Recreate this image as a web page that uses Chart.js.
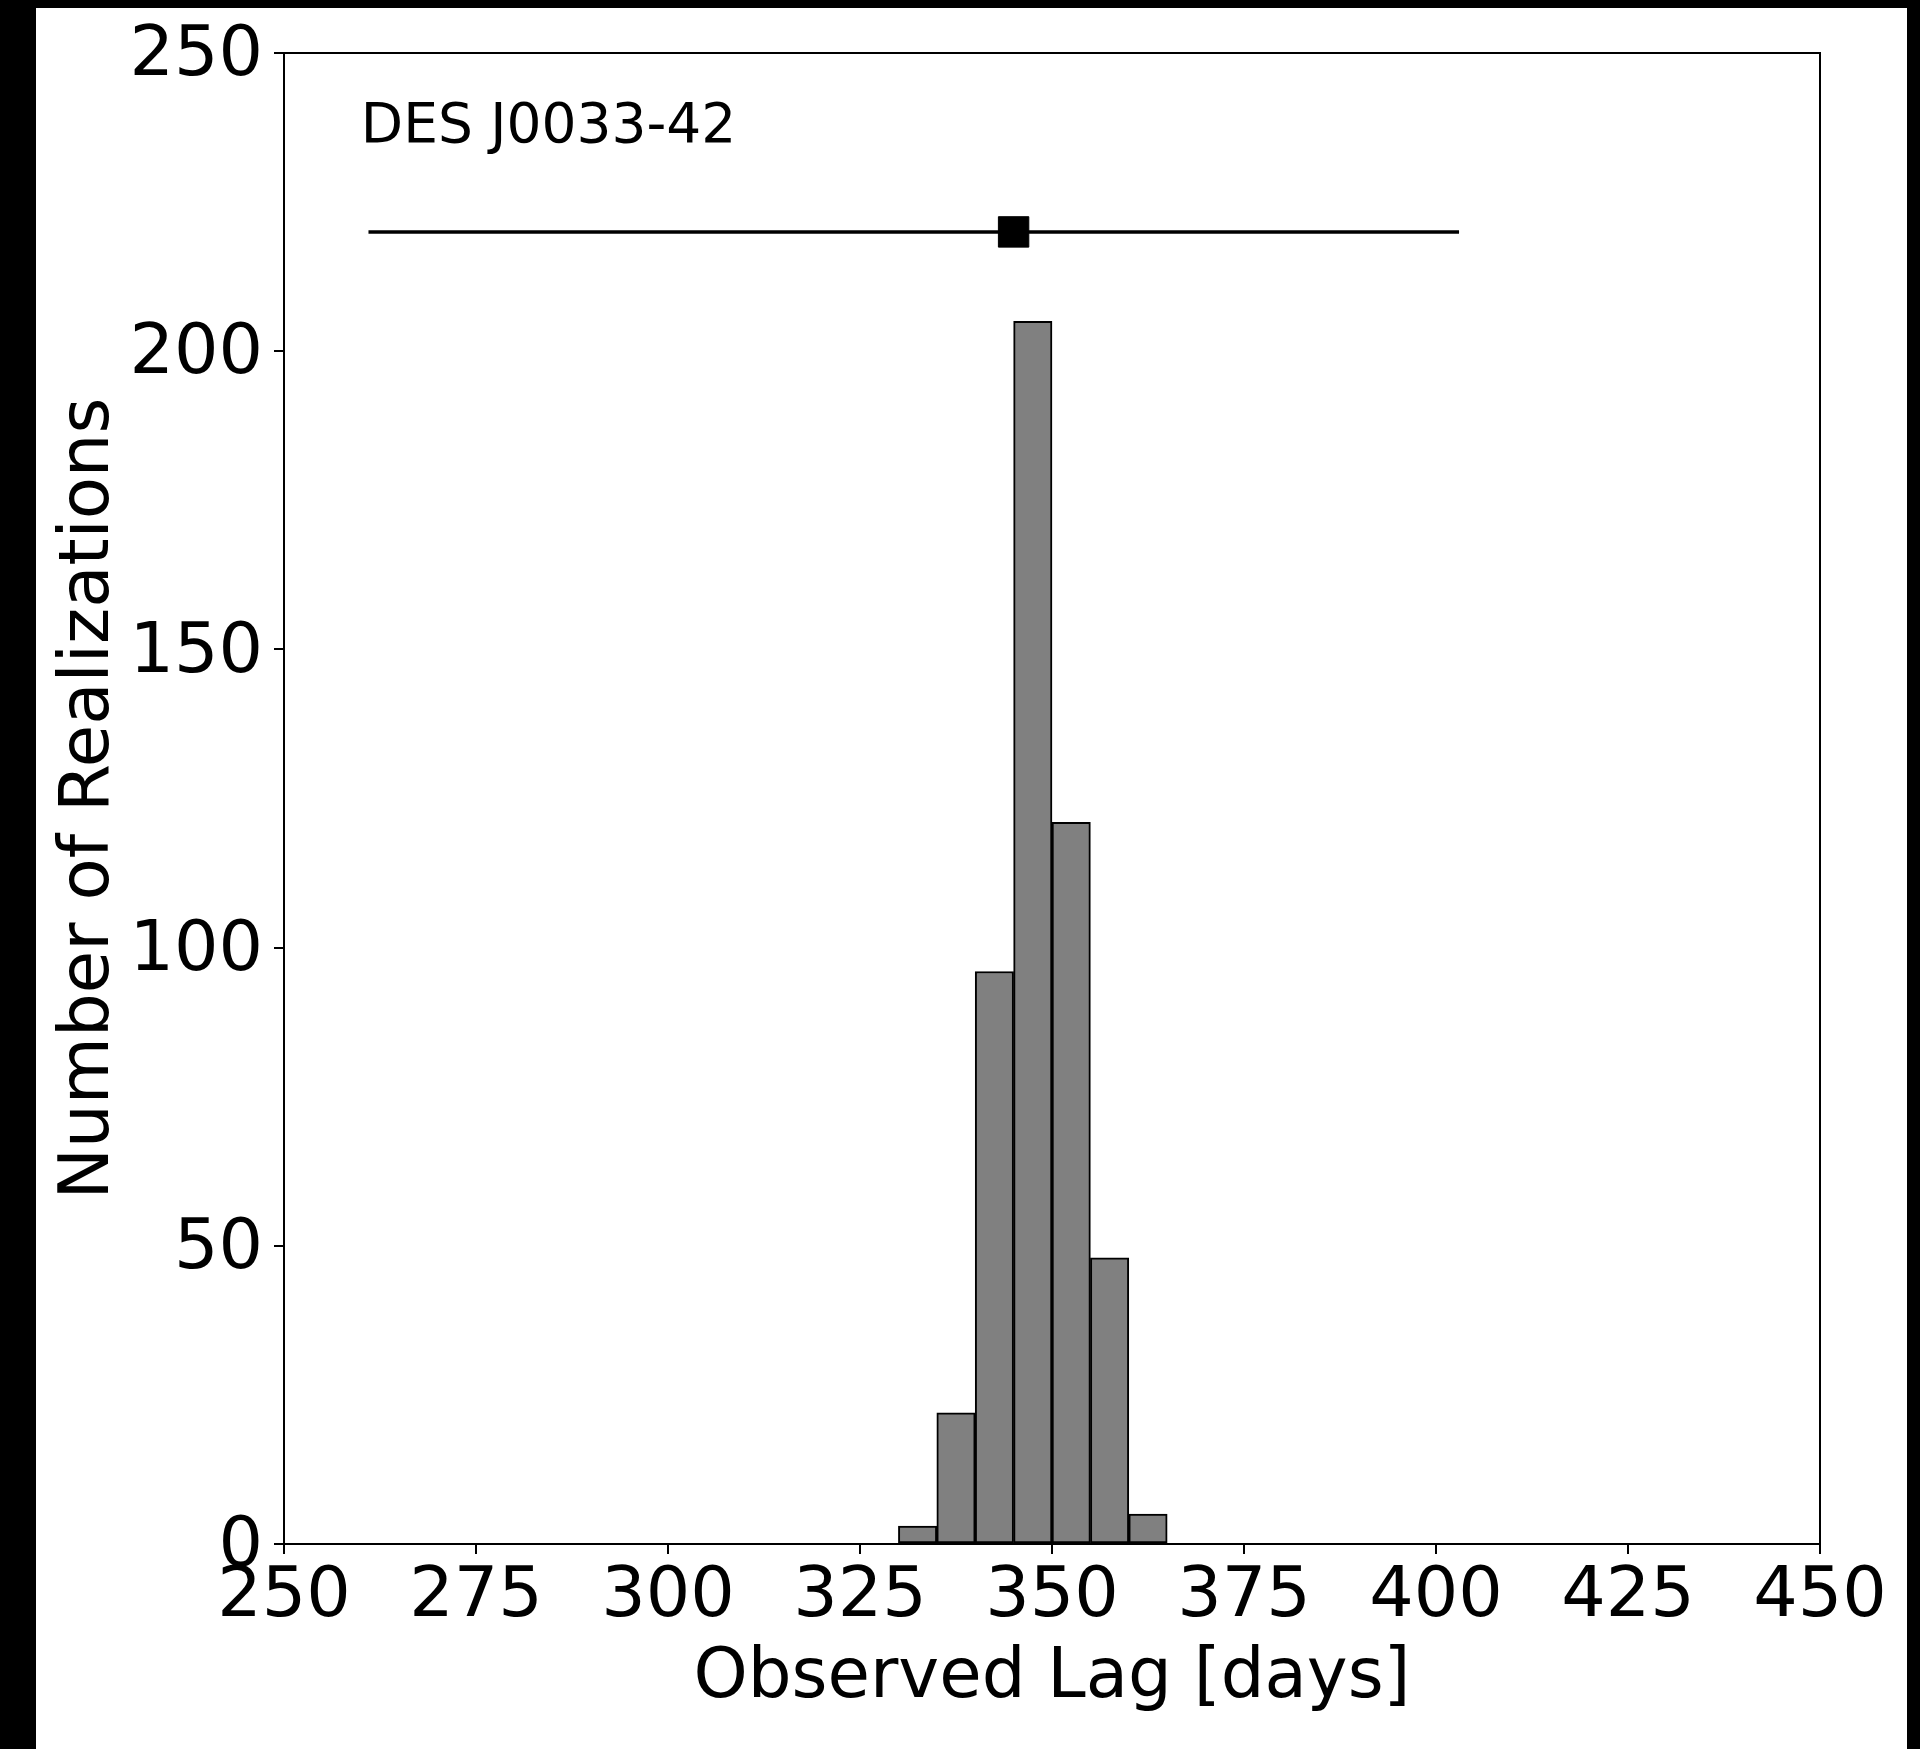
<!DOCTYPE html>
<html>
<head>
<meta charset="utf-8">
<script src="https://cdn.jsdelivr.net/npm/chart.js@4/dist/chart.umd.min.js"></script>
<style>
body{margin:0;background:#000;}
.wrap{position:absolute;left:36px;top:8px;width:1871px;height:1741px;background:#fff;}
</style>
</head>
<body>
<div class="wrap"><canvas id="lag" width="1871" height="1741"></canvas></div>
<script>
// histogram bins (centres, 5 day wide) and counts
const binCenters = [332.5, 337.5, 342.5, 347.5, 352.5, 357.5, 362.5]
const counts = [3, 22, 96, 205, 121, 48, 5]

// measured lag with its error bar
const lagValue = 345
const lagLow = 261
const lagHigh = 403
const lagRow = 220

const xTicks = [250, 275, 300, 325, 350, 375, 400, 425, 450]
const yTicks = [0, 50, 100, 150, 200, 250]
const label = 'DES J0033-42'

var font = 'DejaVu Sans'

var bars = binCenters.map(function(c, i){
    return {x: c, y: counts[i]}
})

const frame = {
    id: 'frame',
    afterDatasetsDraw: function(chart){
        var a = chart.chartArea
        var ctx = chart.ctx
        ctx.save()
        ctx.strokeStyle = '#000'
        ctx.lineWidth = 2
        ctx.strokeRect(a.left, a.top, a.right - a.left, a.bottom - a.top)
        ctx.fillStyle = '#000'
        ctx.font = '55px "' + font + '"'
        ctx.textBaseline = 'middle'
        ctx.fillText(label, a.left + 0.05 * (a.right - a.left), a.top + 0.05 * (a.bottom - a.top))
        ctx.restore()
    }
}

const ctx = document.getElementById('lag').getContext('2d')
const chart = new Chart(ctx, {
    type: 'bar',
    data: {
        datasets: [{
            type: 'scatter',
            data: [{x: lagValue, y: lagRow}],
            pointStyle: 'rect',
            pointRadius: 21.5,
            backgroundColor: '#000',
            borderColor: '#000',
            borderWidth: 1
        }, {
            type: 'line',
            data: [{x: lagLow, y: lagRow}, {x: lagHigh, y: lagRow}],
            borderColor: '#000',
            borderWidth: 3.5,
            pointRadius: 0,
            fill: false
        }, {
            type: 'bar',
            data: bars,
            backgroundColor: '#808080',
            borderColor: '#000',
            borderWidth: 2,
            borderSkipped: false,
            barPercentage: 1,
            categoryPercentage: 1
        }]
    },
    options: {
        responsive: false,
        animation: false,
        layout: {
            padding: {top: 45, right: 87, left: 0, bottom: 0}
        },
        scales: {
            x: {
                type: 'linear',
                min: 250,
                max: 450,
                offset: false,
                afterFit: function(s){
                    s.height = 205
                    s.paddingLeft = 0
                    s.paddingRight = 0
                },
                afterBuildTicks: function(s){ s.ticks = xTicks.map(function(v){ return {value: v} }) },
                border: {display: false},
                grid: {offset: false, drawOnChartArea: false, drawTicks: true, tickLength: 10, color: '#000', lineWidth: 2},
                ticks: {color: '#000', font: {family: font, size: 70}, padding: 2, maxRotation: 0, autoSkip: false},
                title: {display: true, text: 'Observed Lag [days]', color: '#000', font: {family: font, size: 69}, padding: {top: 0, bottom: 29}}
            },
            y: {
                min: 0,
                max: 250,
                afterFit: function(s){
                    s.width = 248
                    s.paddingTop = 0
                    s.paddingBottom = 0
                },
                afterBuildTicks: function(s){ s.ticks = yTicks.map(function(v){ return {value: v} }) },
                border: {display: false},
                grid: {drawOnChartArea: false, drawTicks: true, tickLength: 10, color: '#000', lineWidth: 2},
                ticks: {color: '#000', font: {family: font, size: 70}, padding: 11, labelOffset: 4, autoSkip: false},
                title: {display: true, text: 'Number of Realizations', color: '#000', font: {family: font, size: 69}, padding: {top: 13, bottom: 0}}
            }
        },
        plugins: {
            legend: {display: false},
            tooltip: {enabled: false}
        }
    },
    plugins: [frame]
})
</script>
</body>
</html>
